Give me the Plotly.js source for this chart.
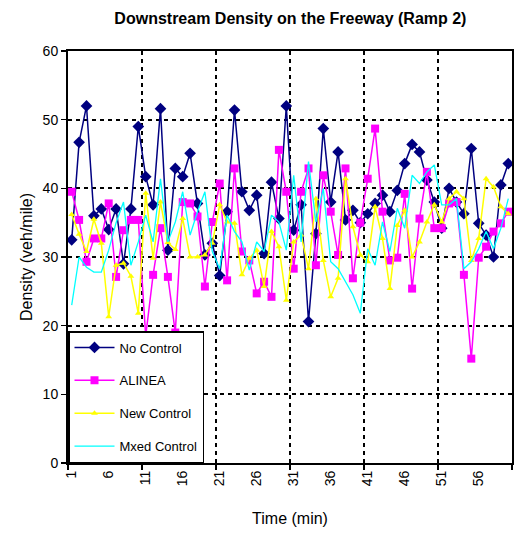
<!DOCTYPE html>
<html>
<head>
<meta charset="utf-8">
<script src="https://cdn.plot.ly/plotly-3.0.1.min.js"></script>
<style>html,body{margin:0;padding:0;background:#fff;}#chart{width:514px;height:538px;}</style>
</head>
<body>
<div id="chart"></div>
<script>
const timeMin = [1,2,3,4,5,6,7,8,9,10,11,12,13,14,15,16,17,18,19,20,21,22,23,24,25,26,27,28,29,30,31,32,33,34,35,36,37,38,39,40,41,42,43,44,45,46,47,48,49,50,51,52,53,54,55,56,57,58,59,60];
const tickLabels = ["1","6","11","16","21","26","31","36","41","46","51","56"];
const tickPositions = [1,6,11,16,21,26,31,36,41,46,51,56];

const noControl = [32.5,46.7,52,36,37,34,37,29,37,49, 41.7,37.6,51.6,31,42.9,41.7,45.1,37.8,30.3,32, 27.3,36.6,51.4,39.5,36.8,39,30.5,40.9,35.6,52, 33.9,37.6,20.6,33.4,48.7,38,45.3,35.4,36.8,35, 36.3,37.8,39,36.6,39.7,43.6,46.4,45.3,41.2,38, 34.2,40,38,36.3,45.8,34.9,33.2,30,40.5,43.6];
const alinea = [39.5,35.4,29.3,32.7,32.7,37.8,27.1,33.9,35.4,35.4, 18.5,27.4,34.2,27.1,19,38,37.8,35.9,25.7,35.1, 40.7,26.6,42.9,30.8,29.5,24.7,26.4,24.2,45.6,39.5, 28.3,39.5,42.9,28.8,41.9,36.6,30.3,42.9,26.9,35, 41.4,48.7,36.6,29.5,29.9,39.2,25.4,35.6,42.4,34.2, 34.2,37.8,38,27.4,15.2,29.9,31.5,33.7,34.9,36.6];
const newControl = [36.2,33.3,30.8,35.5,32,21.3,28.8,29.1,27.2,21.8, 39.3,29.8,38,32.1,31.1,35.6,30,30,30.3,32, 37.6,35.1,34.9,27.4,29.8,31,25.7,33.7,31.5,23.7, 32.2,33.2,28.3,38.5,29.5,24.2,26.9,41.4,34.4,30.3, 29.3,37.3,32.7,25.4,34.6,36.8,30,32.2,35.1,37.6, 35.1,38.5,39.5,38.5,29.5,32.7,41.4,40.2,37.3,36.3];
const mixedControl = [23,30,28.5,27.8,27.8,31,35,38,28.8,32.2, 36.1,32.2,41.4,32.2,35.1,39.5,33.2,36.6,39.5,30.8, 28.3,36.1,33.7,32.2,28.1,32.2,30.8,36.1,35.1,31, 41.9,32.2,43.9,35.1,40,29.3,28.3,26.4,24.5,21.8, 31.2,28.8,35.1,30.8,37.1,34.2,41.9,40.7,42.4,43.4, 37.6,37.6,38.5,28.3,29.3,31.2,33.7,31.2,34.2,38.5];

const FONT = "'Liberation Sans', Arial, sans-serif";

const traces = [
  {x: timeMin, y: noControl, name: "No Control", type: "scatter", mode: "lines+markers", legendgroup: "a",
   line: {color: "#000080", width: 1.5}, marker: {symbol: "diamond", size: 9, color: "#000080"}},
  {x: timeMin, y: alinea, name: "ALINEA", type: "scatter", mode: "lines+markers", legendgroup: "b",
   line: {color: "#FF00FF", width: 1.5}, marker: {symbol: "square", size: 8, color: "#FF00FF"}},
  {x: timeMin, y: newControl, name: "New Control", type: "scatter", mode: "lines+markers", legendgroup: "c",
   line: {color: "#FFFF00", width: 1.5}, marker: {symbol: "triangle-up", size: 6, color: "#FFFF00"}},
  {x: timeMin, y: mixedControl, name: "Mxed Control", type: "scatter", mode: "lines", legendgroup: "d",
   line: {color: "#00FFFF", width: 1.3}}
];

const layout = {
  width: 514, height: 538,
  margin: {l: 68, r: 2, t: 51, b: 75},
  paper_bgcolor: "#fff", plot_bgcolor: "#fff",
  font: {family: FONT, color: "#000", size: 13},
  showlegend: true,
  title: {text: "<b>Downstream Density on the Freeway (Ramp 2)</b>", x: 0.565, xanchor: "center", y: 0.966, yanchor: "middle",
          font: {family: FONT, size: 16, color: "#000"}},
  xaxis: {
    range: [0.5, 60.5], tickmode: "array", tickvals: tickPositions, ticktext: tickLabels,
    tickangle: -90, ticks: "", showgrid: false, zeroline: false,
    showline: true, linecolor: "#000", linewidth: 2, mirror: true,
    tickfont: {family: FONT, size: 14, color: "#000"},
    minor: {tickmode: "linear", tick0: 0.5, dtick: 10, ticks: "outside", ticklen: 5, tickcolor: "#000", tickwidth: 1.5,
            showgrid: true, gridcolor: "#000", griddash: "4px,4px", gridwidth: 2},
    title: {text: "Time (min)", font: {family: FONT, size: 16, color: "#000"}, standoff: 28}
  },
  yaxis: {
    range: [0, 60], tickmode: "linear", tick0: 0, dtick: 10,
    ticks: "outside", ticklen: 5, tickcolor: "#000", tickwidth: 1.5,
    showgrid: true, gridcolor: "#000", griddash: "4px,4px", gridwidth: 2, zeroline: false,
    showline: true, linecolor: "#000", linewidth: 2, mirror: true,
    tickfont: {family: FONT, size: 14, color: "#000"},
    title: {text: "Density (veh/mile)", font: {family: FONT, size: 16, color: "#000"}, standoff: 6}
  },
  legend: {x: 0, y: 0, xanchor: "left", yanchor: "bottom", bgcolor: "#fff", bordercolor: "#000", borderwidth: 1.5,
           font: {family: FONT, size: 13, color: "#000"}, tracegroupgap: 13, itemwidth: 40}
};

Plotly.newPlot("chart", traces, layout, {displayModeBar: false, staticPlot: true});
</script>
</body>
</html>
